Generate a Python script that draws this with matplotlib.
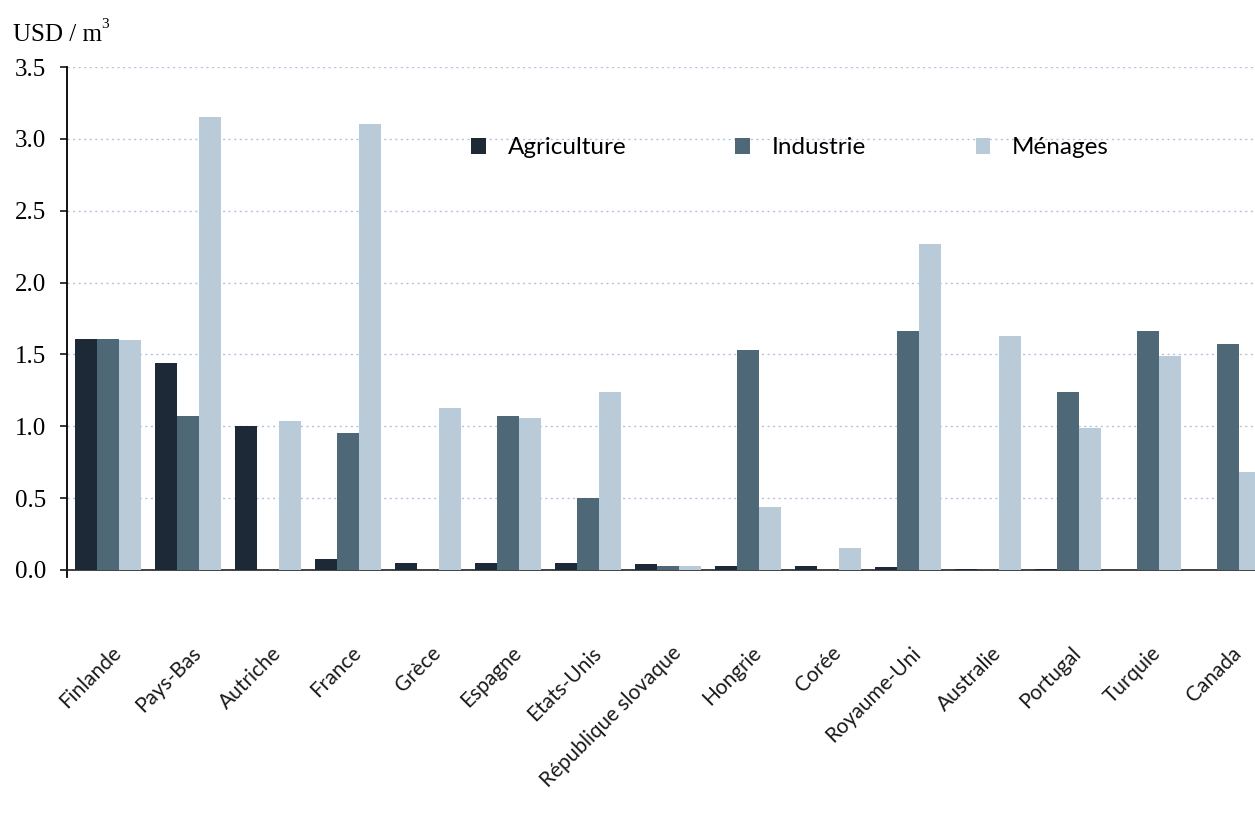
import numpy as np
import matplotlib
matplotlib.use("Agg")
import matplotlib.pyplot as plt
import matplotlib.transforms as mtransforms
from matplotlib.patches import Patch

# --- Données (USD / m3) ---
pays = ["Finlande", "Pays-Bas", "Autriche", "France", "Grèce", "Espagne",
        "Etats-Unis", "République slovaque", "Hongrie", "Corée",
        "Royaume-Uni", "Australie", "Portugal", "Turquie", "Canada"]
agriculture = [1.61, 1.44, 1.00, 0.08, 0.05, 0.05, 0.05, 0.04, 0.025, 0.03,
               0.02, 0.01, 0.01, 0.0, 0.0]
industrie = [1.61, 1.07, 0.0, 0.95, 0.0, 1.07, 0.50, 0.03, 1.53, 0.0,
             1.66, 0.0, 1.24, 1.66, 1.57]
menages = [1.60, 3.15, 1.04, 3.10, 1.13, 1.06, 1.24, 0.03, 0.44, 0.15,
           2.27, 1.63, 0.99, 1.49, 0.68]
series = ["Agriculture", "Industrie", "Ménages"]
couleurs = ["#1d2937", "#4e6877", "#b9cbd9"]
yticks = [0.0, 0.5, 1.0, 1.5, 2.0, 2.5, 3.0, 3.5]

W, H = 1255, 816
fig = plt.figure(figsize=(W / 100, H / 100), dpi=100)
fig.patch.set_facecolor("white")

# axe : gauche a x=67px, le bord droit coupe le dernier groupe
ax = fig.add_axes([67 / W, 1 - 570 / H, 1 - 67 / W, (570 - 67) / H])
ax.set_facecolor("white")

x = np.arange(len(pays))
w = 0.275
for k, (vals, c) in enumerate(zip([agriculture, industrie, menages], couleurs)):
    ax.bar(x + (k - 1) * w, vals, width=w, color=c, linewidth=0, zorder=3)

ax.set_ylim(0, 3.5)
ax.set_xlim(-0.5125, 14.3375)

# grille pointillée bleutée
ax.set_yticks(yticks)
ax.set_yticklabels([f"{v:.1f}" for v in yticks],
                   family="Liberation Serif", fontsize=18)
for v in yticks[1:]:
    ax.axhline(v, color="#b3c2dc", lw=1.0, ls=(0, (1.5, 2.5)), zorder=1)

for s in ["top", "right"]:
    ax.spines[s].set_visible(False)
ax.spines["left"].set_bounds(-0.05, 3.5)
ax.spines["left"].set_linewidth(1.3)
ax.spines["bottom"].set_linewidth(1.2)
ax.spines["bottom"].set_color("#222222")
ax.tick_params(axis="y", direction="out", length=5, width=1.1, pad=10)

# étiquettes des pays, inclinées
ax.set_xticks(x)
ax.set_xticklabels(pays, rotation=45, ha="right", va="center",
                   rotation_mode="anchor", family="Lato", fontsize=15,
                   color="#1a1a1a")
ax.tick_params(axis="x", length=0, pad=0)
offset = mtransforms.ScaledTranslation(0.10, -0.80, fig.dpi_scale_trans)
for lab in ax.get_xticklabels():
    lab.set_transform(lab.get_transform() + offset)

fig.text(13 / W, 1 - 35 / H, "USD / m", family="Liberation Serif",
         fontsize=18, va="center", ha="left")
fig.text(101 / W, 1 - 24 / H, "3", family="Liberation Serif",
         fontsize=11, va="center", ha="left")

handles = [Patch(facecolor=c, edgecolor="none") for c in couleurs]
fig.legend(handles, series, loc="center left",
           bbox_to_anchor=(471 / W, 1 - 148 / H), ncol=3, frameon=False,
           prop={"family": "Lato", "size": 17.5},
           handlelength=0.6, handleheight=0.6, handletextpad=0.9,
           columnspacing=4.5, borderpad=0, borderaxespad=0)

fig.savefig("out.png", dpi=100)
